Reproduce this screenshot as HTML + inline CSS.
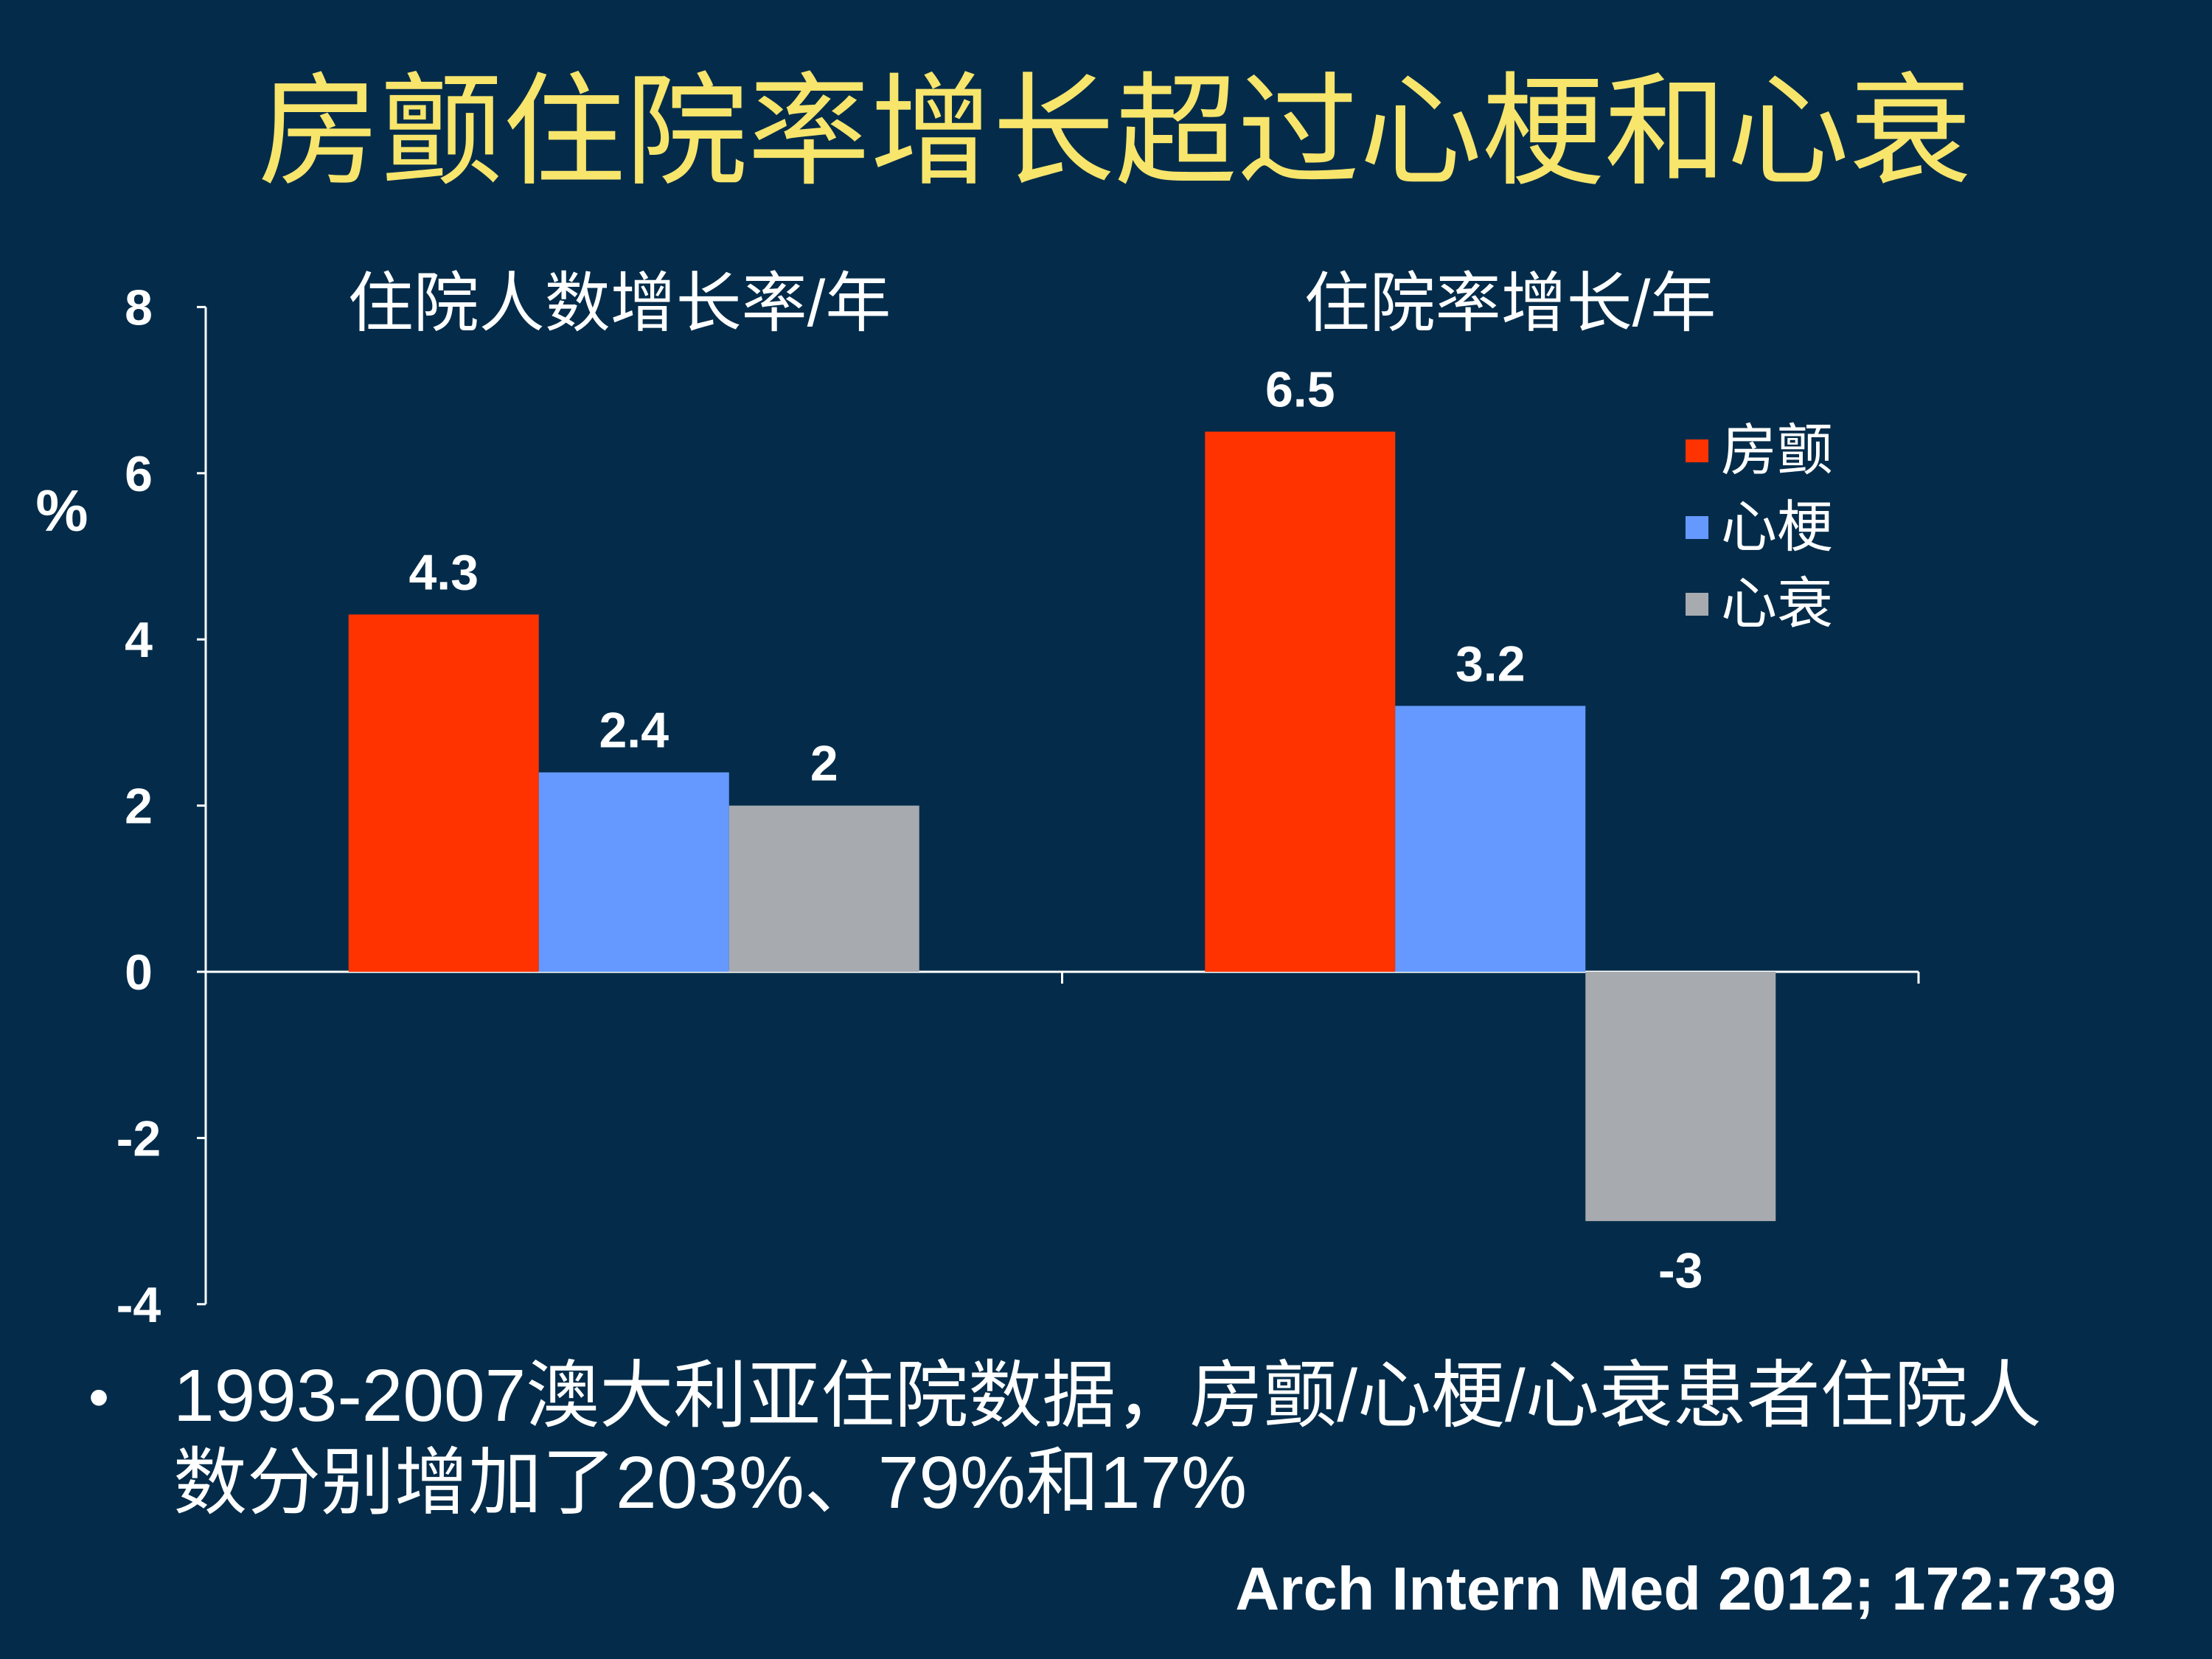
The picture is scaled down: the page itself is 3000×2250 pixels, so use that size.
<!DOCTYPE html>
<html><head><meta charset="utf-8">
<style>
html,body{margin:0;padding:0;background:#042c4a;}
svg{display:block;}
text{font-family:"Liberation Sans","Noto Sans CJK SC",sans-serif;}
</style></head>
<body>
<svg id="chart" width="3000" height="2250" viewBox="0 0 3000 2250" xmlns="http://www.w3.org/2000/svg">
<rect x="0" y="0" width="3000" height="2250" fill="#042c4a"/>
<text x="1512" y="236" text-anchor="middle" font-size="166" fill="#f7e56c">房颤住院率增长超过心梗和心衰</text>
<text x="840" y="442" text-anchor="middle" font-size="89" fill="#ffffff">住院人数增长率/年</text>
<text x="2048" y="442" text-anchor="middle" font-size="89" fill="#ffffff">住院率增长/年</text>
<text x="84" y="720" text-anchor="middle" font-size="80" font-weight="bold" fill="#ffffff">%</text>
<g id="axes"></g>
<g id="bars"></g>
<g id="legend"></g>
<text x="134" y="1922" text-anchor="middle" font-size="80" fill="#ffffff">•</text>
<text x="235" y="1927" font-size="100" fill="#ffffff">1993-2007澳大利亚住院数据，房颤/心梗/心衰患者住院人</text>
<text x="235" y="2045" font-size="100" fill="#ffffff">数分别增加了203%、79%和17%</text>
<text x="2870" y="2183" text-anchor="end" font-size="83" font-weight="bold" fill="#ffffff">Arch Intern Med 2012; 172:739</text>
</svg>
<script>
const groups = ["住院人数增长率/年", "住院率增长/年"];
const seriesNames = ["房颤", "心梗", "心衰"];
const afValues = [4.3, 6.5];
const miValues = [2.4, 3.2];
const hfValues = [2, -3];
const valueLabels = [["4.3","2.4","2"],["6.5","3.2","-3"]];
const yTicks = [8, 6, 4, 2, 0, -2, -4];
const seriesColors = ["#ff3300", "#6699ff", "#a7aaaf"];

const NS = "http://www.w3.org/2000/svg";
const x0 = 279, x1 = 2602;
const zeroY = 1318, unit = 112.7;
const yScale = v => zeroY - v * unit;
const groupW = (x1 - x0) / groups.length;
const barW = 258;
const groupStart = g => x0 + g * groupW + (groupW - barW * 3) / 2;
function mk(tag, attrs, parent){const e=document.createElementNS(NS,tag);for(const k in attrs)e.setAttribute(k,attrs[k]);parent.appendChild(e);return e;}

const axes = document.getElementById('axes');
const yax = mk('line',{x1:x0,y1:yScale(8),x2:x0,y2:yScale(-4),stroke:'#ffffff','stroke-width':3},axes);


yTicks.forEach(t=>{
  const tk = mk('line',{x1:x0-12,y1:yScale(t),x2:x0,y2:yScale(t),stroke:'#ffffff','stroke-width':3},axes);
  
  
  const lb = mk('text',{x:188,y:yScale(t)+24,'text-anchor':'middle','font-size':68,'font-weight':'bold',fill:'#ffffff'},axes);
  lb.textContent = String(t);
  
  
});
const xax = mk('line',{x1:x0,y1:zeroY,x2:x1,y2:zeroY,stroke:'#ffffff','stroke-width':3},axes);


for(let g=0; g<=groups.length; g++){
  const xt = x0 + g*groupW;
  const tk = mk('line',{x1:xt,y1:zeroY,x2:xt,y2:zeroY+16,stroke:'#ffffff','stroke-width':3},axes);
  
  
}

const bars = document.getElementById('bars');
const series = [afValues, miValues, hfValues];
groups.forEach((g,gi)=>{
  series.forEach((vals,si)=>{
    const v = vals[gi];
    const bx = groupStart(gi) + si*barW;
    const yTop = Math.min(yScale(v), zeroY);
    const h = Math.abs(yScale(v) - zeroY);
    const r = mk('rect',{x:bx,y:yTop,width:barW,height:h,fill:seriesColors[si]},bars);
    
    
    const ly = v >= 0 ? yScale(v) - 34 : yScale(v) + 90;
    const lb = mk('text',{x:bx+barW/2,y:ly,'text-anchor':'middle','font-size':68,'font-weight':'bold',fill:'#ffffff'},bars);
    lb.textContent = valueLabels[gi][si];
    
    
  });
});

const legend = document.getElementById('legend');
seriesNames.forEach((n,i)=>{
  const y = 596 + i*104;
  const sq = mk('rect',{x:2286,y:y,width:31,height:31,fill:seriesColors[i]},legend);
  
  
  const t = mk('text',{x:2334,y:y+41,'font-size':76,fill:'#ffffff'},legend);
  t.textContent = n;
  
  
});
</script>
</body></html>
